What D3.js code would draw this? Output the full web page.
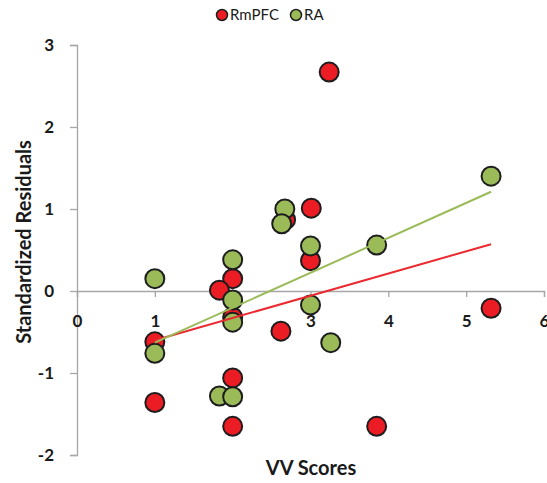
<!DOCTYPE html>
<html>
<head>
<meta charset="utf-8">
<script src="https://cdn.jsdelivr.net/npm/d3@7"></script>
<style>
  body { margin: 0; background: #fff; }
  svg { display: block; font-family: Lato, "Open Sans", sans-serif; }
</style>
</head>
<body>
<div id="chart"></div>
<script>
var width = 547,
    height = 483;

// series data
var seriesNames = ["RmPFC", "RA"];
var rmpfcX = [3.24, 3.01, 2.68, 3.0, 2.0, 1.83, 2.0, 2.62, 1.0, 2.0, 1.0, 2.0, 3.85, 5.32];
var rmpfcY = [2.67, 1.01, 0.87, 0.37, 0.15, 0.01, -0.32, -0.49, -0.62, -1.06, -1.36, -1.65, -1.65, -0.21];
var raX = [5.32, 2.67, 2.63, 3.0, 3.85, 2.0, 1.0, 2.0, 3.0, 2.0, 1.0, 3.26, 1.83, 2.0];
var raY = [1.40, 1.0, 0.82, 0.55, 0.56, 0.38, 0.15, -0.11, -0.17, -0.38, -0.76, -0.63, -1.28, -1.29];

// trend lines (slope, intercept) over the x range
var trendRange = [1, 5.32];
var rmpfcTrend = [0.271, -0.871];
var raTrend = [0.426, -1.056];

var xTicks = [0, 1, 2, 3, 4, 5, 6];
var yTicks = [-2, -1, 0, 1, 2, 3];

var colors = { RmPFC: "#ec1c24", RA: "#9bbb59" };
var lineColors = { RmPFC: "#ea2a2f", RA: "#9bbb59" };

var x = d3.scaleLinear().domain([0, 6]).range([77, 544]);
var y = d3.scaleLinear().domain([-2, 3]).range([455, 45]);

var svg = d3.select("#chart").append("svg")
    .attr("width", width)
    .attr("height", height);

// plain hyphen minus, like the original
var fmt = function(d) { return String(d); };

// y axis
var yAxis = svg.append("g")
    .attr("transform", "translate(" + x(0) + ",0)")
    .call(d3.axisLeft(y).tickValues(yTicks).tickSize(7).tickPadding(16).tickFormat(fmt));
yAxis.select(".domain").attr("stroke", "#a6a6a6").attr("stroke-width", 1.3);
yAxis.selectAll(".tick line").attr("stroke", "#a6a6a6").attr("stroke-width", 1.3);
yAxis.selectAll(".tick text")
    .attr("fill", "#1a1a1a")
    .attr("font-size", 17)
    .attr("font-weight", "bold")
    .attr("font-family", "Lato, sans-serif");

// x axis, crossing at y = 0
var xAxis = svg.append("g")
    .attr("transform", "translate(0," + y(0) + ")")
    .call(d3.axisBottom(x).tickValues(xTicks).tickSize(6).tickPadding(18).tickFormat(fmt));
xAxis.select(".domain").attr("stroke", "#a6a6a6").attr("stroke-width", 1.3);
xAxis.selectAll(".tick line").attr("stroke", "#a6a6a6").attr("stroke-width", 1.3);
xAxis.selectAll(".tick text")
    .attr("fill", "#1a1a1a")
    .attr("font-size", 17)
    .attr("font-weight", "bold")
    .attr("font-family", "Lato, sans-serif");

// points: RmPFC first, RA drawn on top
function drawPoints(xs, ys, name) {
  svg.append("g").selectAll("circle")
    .data(xs.map(function(v, i) { return [v, ys[i]]; }))
    .join("circle")
      .attr("cx", d => x(d[0]))
      .attr("cy", d => y(d[1]))
      .attr("r", 9.5)
      .attr("fill", colors[name])
      .attr("stroke", "#1d1d1d")
      .attr("stroke-width", 2);
}
drawPoints(rmpfcX, rmpfcY, "RmPFC");
drawPoints(raX, raY, "RA");

// trend lines
function drawTrend(coef, name) {
  var pts = trendRange.map(function(v) { return [v, coef[0] * v + coef[1]]; });
  svg.append("path")
    .attr("d", d3.line().x(d => x(d[0])).y(d => y(d[1]))(pts))
    .attr("fill", "none")
    .attr("stroke", lineColors[name])
    .attr("stroke-width", 2);
}
drawTrend(rmpfcTrend, "RmPFC");
drawTrend(raTrend, "RA");

// axis titles
svg.append("text")
    .attr("x", 311)
    .attr("y", 475)
    .attr("text-anchor", "middle")
    .attr("font-size", 20)
    .attr("font-weight", "bold")
    .attr("fill", "#1a1a1a")
    .text("VV Scores");

svg.append("text")
    .attr("transform", "translate(31,242) rotate(-90)")
    .attr("text-anchor", "middle")
    .attr("font-size", 20)
    .attr("font-weight", "bold")
    .attr("fill", "#1a1a1a")
    .text("Standardized Residuals");

// legend
var legendX = [222, 296];
var legend = svg.append("g");
seriesNames.forEach(function(name, i) {
  legend.append("circle")
    .attr("cx", legendX[i])
    .attr("cy", 15)
    .attr("r", 5.5)
    .attr("fill", colors[name])
    .attr("stroke", "#1d1d1d")
    .attr("stroke-width", 1.5);
  legend.append("text")
    .attr("x", legendX[i] + 8)
    .attr("y", 20)
    .attr("font-size", 15)
    .attr("fill", "#1a1a1a")
    .text(name);
});
</script>
</body>
</html>
